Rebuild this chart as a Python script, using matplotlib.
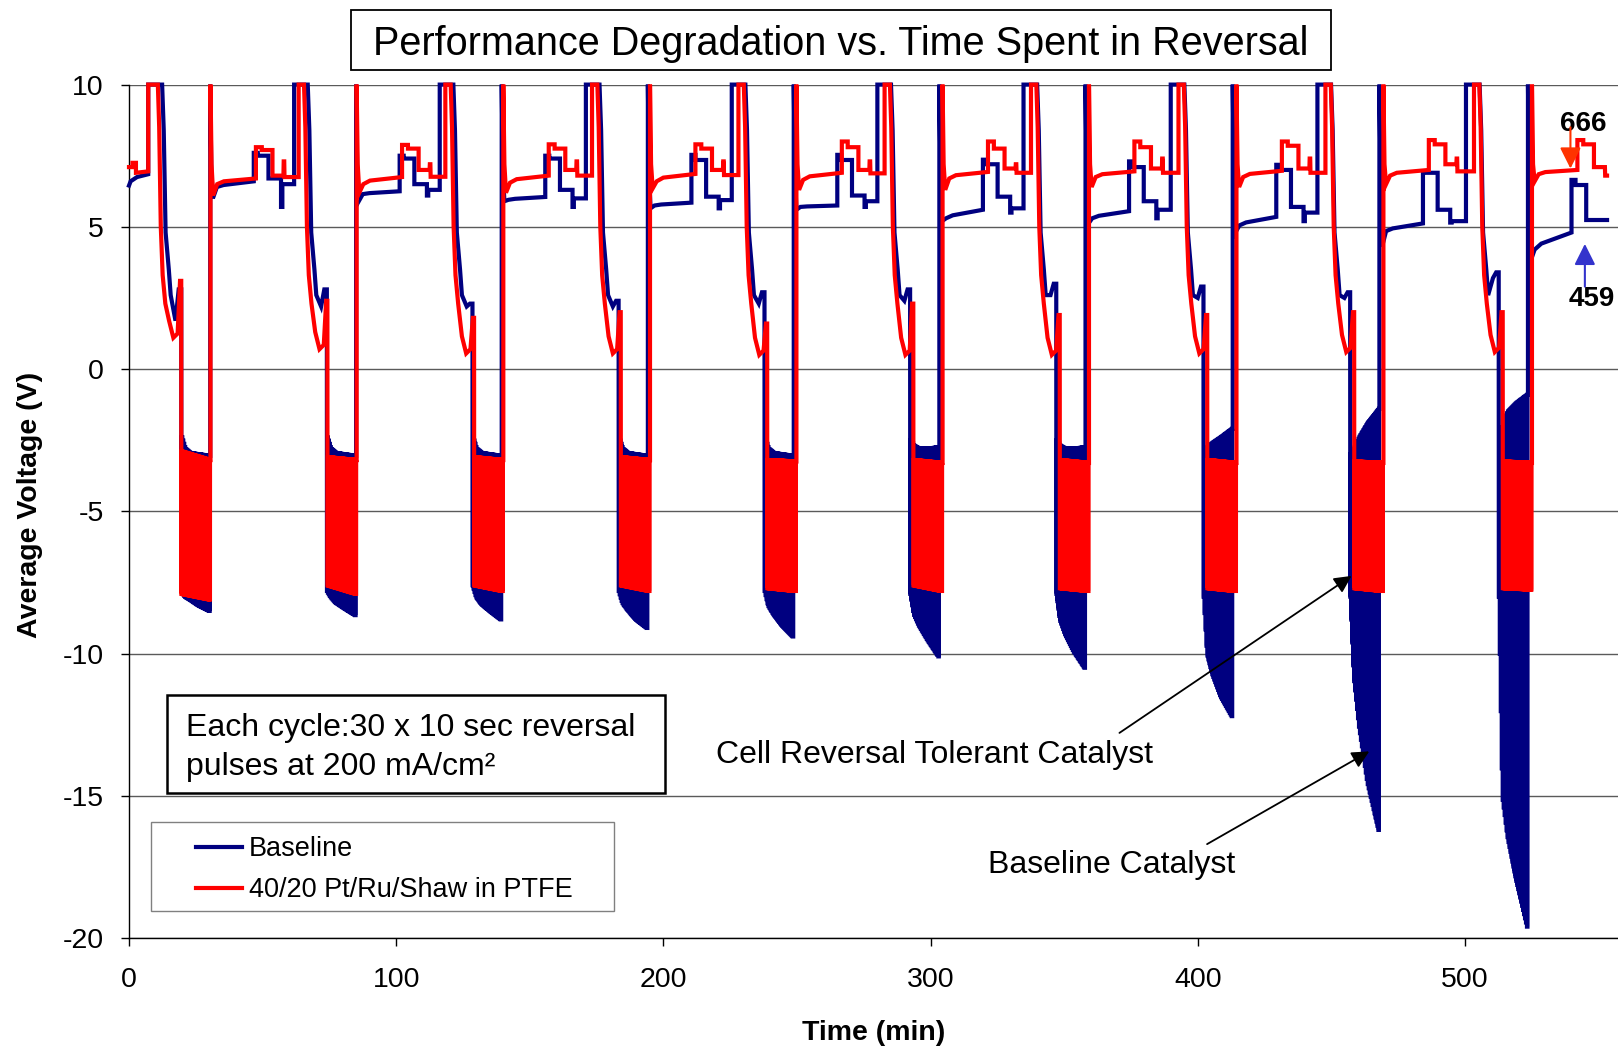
import numpy as np
import matplotlib
matplotlib.use("Agg")
import matplotlib.pyplot as plt
from matplotlib.patches import Rectangle
from matplotlib.lines import Line2D

plt.rcParams['font.family'] = ['Liberation Sans', 'DejaVu Sans']
plt.rcParams['axes.unicode_minus'] = False

NAVY = '#000080'
RED = '#FF0000'

# ---------------- data: time in minutes, average voltage in V ----------------
PULSES_PER_CYCLE = 30
END_TIME = 553.2

# reversal pulse blocks
RED_PULSE_START = [19.6, 74.3, 129.2, 184.1, 238.9, 293.6, 348.4, 403.6, 458.6, 514.2]
RED_PULSE_END = [30.5, 85.2, 140.1, 195.0, 249.8, 304.5, 359.3, 414.5, 469.5, 525.1]
BLUE_PULSE_START = [19.6, 74.1, 128.6, 183.3, 237.9, 292.4, 347.1, 402.2, 457.1, 512.7]
BLUE_PULSE_END = [30.4, 85.0, 139.5, 194.2, 248.8, 303.3, 358.0, 413.1, 468.0, 523.6]

# time at which each trace jumps to the top of the scale before a reversal block
RED_TOP_ON = [7.2, 63.5, 118.4, 173.3, 228.1, 282.8, 337.6, 392.8, 447.8, 503.4]
BLUE_TOP_ON = [7.2, 61.8, 116.3, 171.0, 225.6, 280.1, 334.8, 389.9, 444.8, 500.4]

# start of the record
RED_INIT_T = [0.0, 1.3, 1.3, 2.6, 2.6, 7.2]
RED_INIT_V = [7.1, 7.1, 7.25, 7.25, 6.9, 6.95]
BLUE_INIT_T = [0.0, 0.6, 3.0, 7.2]
BLUE_INIT_V = [6.45, 6.6, 6.75, 6.85]

# descent into reversal
RED_PRE_MIN = [1.1, 0.7, 0.55, 0.55, 0.5, 0.5, 0.5, 0.55, 0.6, 0.6]
RED_PRE_END = [3.1, 2.4, 1.8, 2.0, 1.6, 2.3, 1.9, 1.9, 2.0, 2.0]
BLUE_PRE_LOW = [1.7, 2.2, 2.2, 2.2, 2.3, 2.4, 2.6, 2.5, 2.5, 3.2]
BLUE_PRE_END = [2.8, 2.8, 2.3, 2.4, 2.7, 2.8, 3.0, 2.9, 2.7, 3.4]

# pulse envelopes (upper = between pulses, lower = during reversal)
RED_ENV_FRAC = [0.0, 1.0]
RED_HI = [[-2.9, -3.2], [-3.1, -3.2], [-3.1, -3.2], [-3.1, -3.2], [-3.2, -3.25],
          [-3.2, -3.3], [-3.2, -3.3], [-3.2, -3.3], [-3.25, -3.3], [-3.25, -3.3]]
RED_LO = [[-7.9, -8.1], [-7.6, -7.9], [-7.6, -7.8], [-7.6, -7.8], [-7.7, -7.8],
          [-7.6, -7.8], [-7.7, -7.8], [-7.7, -7.8], [-7.7, -7.8], [-7.7, -7.75]]
BLUE_ENV_FRAC = [0.0, 0.12, 0.3, 0.6, 1.0]
BLUE_HI = [[-2.4, -2.8, -2.95, -3.0, -3.05],
           [-2.4, -2.8, -2.95, -3.0, -3.05],
           [-2.4, -2.8, -2.95, -3.0, -3.05],
           [-2.4, -2.8, -2.95, -3.0, -3.05],
           [-2.4, -2.8, -2.95, -3.0, -3.05],
           [-2.5, -2.7, -2.8, -2.8, -2.75],
           [-2.5, -2.7, -2.8, -2.8, -2.75],
           [-2.9, -2.75, -2.6, -2.4, -2.1],
           [-3.0, -2.8, -2.4, -1.9, -1.4],
           [-3.0, -1.9, -1.5, -1.2, -0.9]]
BLUE_LO = [[-7.8, -8.0, -8.1, -8.3, -8.5],
           [-7.8, -8.0, -8.2, -8.4, -8.65],
           [-7.6, -8.0, -8.25, -8.5, -8.8],
           [-7.8, -8.2, -8.45, -8.8, -9.1],
           [-7.8, -8.3, -8.6, -9.0, -9.4],
           [-7.9, -8.6, -9.0, -9.5, -10.1],
           [-7.9, -8.8, -9.3, -9.9, -10.5],
           [-8.0, -10.0, -10.7, -11.5, -12.2],
           [-8.0, -10.8, -12.5, -14.5, -16.2],
           [-8.0, -15.0, -16.4, -17.9, -19.6]]

# recovery after each reversal block
RED_DIP = [6.1, 6.2, 6.2, 6.35, 6.3, 6.3, 6.4, 6.4, 6.5, 6.6]
RED_PLAT_START = [6.5, 6.5, 6.55, 6.6, 6.65, 6.7, 6.75, 6.75, 6.8, 6.85]
RED_PLAT_END = [6.7, 6.75, 6.8, 6.86, 6.9, 6.93, 6.95, 6.97, 7.0, 7.0]
RED_STEP_HI = [7.8, 7.88, 7.9, 7.9, 8.0, 8.0, 8.0, 8.0, 8.05, 8.05]
RED_STEP_LO = [7.7, 7.75, 7.75, 7.75, 7.8, 7.75, 7.8, 7.85, 7.9, 7.9]
RED_MID = [6.8, 7.0, 7.0, 7.0, 7.0, 7.05, 7.05, 7.05, 7.2, 7.1]
RED_BLIP = [7.3, 7.2, 7.3, 7.3, 7.3, 7.2, 7.4, 7.4, 7.4, 6.8]
RED_LATE = [6.75, 6.76, 6.8, 6.82, 6.88, 6.9, 6.9, 6.9, 6.95, 6.8]

BLUE_DIP = [6.0, 5.9, 5.9, 5.65, 5.6, 5.2, 5.1, 4.8, 4.3, 3.8]
BLUE_PLAT0 = [6.4, 6.15, 5.95, 5.75, 5.7, 5.3, 5.3, 5.05, 4.85, 4.2]
BLUE_PLAT1 = [6.6, 6.25, 6.05, 5.85, 5.75, 5.6, 5.55, 5.35, 5.12, 4.8]
BLUE_STEP = [7.6, 7.5, 7.5, 7.53, 7.53, 7.36, 7.3, 7.18, 6.94, 6.65]
BLUE_STEP2 = [7.5, 7.4, 7.4, 7.35, 7.35, 7.2, 7.1, 7.0, 6.9, 6.47]
BLUE_MID = [6.7, 6.5, 6.3, 6.06, 6.1, 6.06, 5.9, 5.7, 5.6, 5.24]
BLUE_NOTCH = [5.7, 6.1, 5.7, 5.65, 5.7, 5.5, 5.3, 5.2, 5.15, 5.24]
BLUE_LATE = [6.5, 6.3, 6.0, 5.94, 5.9, 5.65, 5.6, 5.5, 5.2, 5.24]


# ---------------- trace assembly ----------------
def pulse_block(t0, t1, frac, lo_pts, hi_pts, n=PULSES_PER_CYCLE):
    period = (t1 - t0) / n
    f = np.arange(n) / (n - 1)
    lo = np.interp(f, frac, lo_pts)
    hi = np.interp(f, frac, hi_pts)
    pts = []
    for i in range(n):
        ts = t0 + i * period
        pts += [(ts, lo[i]), (ts + 0.45 * period, lo[i]),
                (ts + 0.5 * period, hi[i]), (ts + 0.97 * period, hi[i])]
    pts.append((t1, hi[-1]))
    return pts


def red_pre(k):
    r, m, e = RED_PULSE_START[k], RED_PRE_MIN[k], RED_PRE_END[k]
    return [(RED_TOP_ON[k], 10), (r - 8.8, 10), (r - 8.3, 8.5), (r - 7.7, 5.0),
            (r - 7.0, 3.3), (r - 6.0, 2.3), (r - 4.6, m + 0.6), (r - 3.0, m),
            (r - 1.4, m + 0.15), (r - 0.5, e), (r - 0.05, e)]


def red_post(k):
    e = RED_PULSE_END[k]
    ps, pe = RED_PLAT_START[k], RED_PLAT_END[k]
    return [(e, 10), (e + 0.4, 7.2), (e + 1.0, RED_DIP[k]), (e + 2.5, ps),
            (e + 5.0, ps + 0.5 * (pe - ps)), (e + 17.0, pe),
            (e + 17.0, RED_STEP_HI[k]), (e + 19.2, RED_STEP_HI[k]),
            (e + 19.2, RED_STEP_LO[k]), (e + 23.2, RED_STEP_LO[k]),
            (e + 23.2, RED_MID[k]), (e + 27.3, RED_MID[k]),
            (e + 27.4, RED_BLIP[k]), (e + 27.6, RED_BLIP[k]),
            (e + 27.7, RED_LATE[k])]


def blue_pre(k):
    r = BLUE_PULSE_START[k]
    return [(BLUE_TOP_ON[k], 10), (r - 7.2, 10), (r - 6.6, 8.4), (r - 5.9, 4.8),
            (r - 4.7, 3.5), (r - 4.0, 2.6), (r - 2.2, BLUE_PRE_LOW[k]),
            (r - 1.0, BLUE_PRE_END[k]), (r - 0.05, BLUE_PRE_END[k])]


def blue_post(k):
    e = BLUE_PULSE_END[k]
    p0, p1 = BLUE_PLAT0[k], BLUE_PLAT1[k]
    return [(e, 10), (e + 0.4, 7.0), (e + 1.0, BLUE_DIP[k]), (e + 2.5, p0),
            (e + 5.0, p0 + 0.35 * (p1 - p0)), (e + 16.3, p1),
            (e + 16.3, BLUE_STEP[k]), (e + 17.8, BLUE_STEP[k]),
            (e + 17.8, BLUE_STEP2[k]), (e + 21.8, BLUE_STEP2[k]),
            (e + 21.8, BLUE_MID[k]), (e + 26.5, BLUE_MID[k]),
            (e + 26.5, BLUE_NOTCH[k]), (e + 27.0, BLUE_NOTCH[k]),
            (e + 27.0, BLUE_LATE[k])]


def assemble(init_t, init_v, top_on, pre, pulses, post):
    pts = list(zip(init_t, init_v))
    for k in range(len(top_on)):
        pts.append((top_on[k], pts[-1][1]))
        pts += pre(k)
        pts += pulses(k)
        pts += post(k)
    t = np.array([p[0] for p in pts])
    v = np.array([p[1] for p in pts])
    keep = t <= END_TIME
    t_end = np.append(t[keep], END_TIME)
    v_end = np.append(v[keep], v[keep][-1])
    return t_end, v_end


red_t, red_v = assemble(
    RED_INIT_T, RED_INIT_V, RED_TOP_ON, red_pre,
    lambda k: pulse_block(RED_PULSE_START[k], RED_PULSE_END[k], RED_ENV_FRAC, RED_LO[k], RED_HI[k]),
    red_post)
blue_t, blue_v = assemble(
    BLUE_INIT_T, BLUE_INIT_V, BLUE_TOP_ON, blue_pre,
    lambda k: pulse_block(BLUE_PULSE_START[k], BLUE_PULSE_END[k], BLUE_ENV_FRAC, BLUE_LO[k], BLUE_HI[k]),
    blue_post)

# ---------------- figure ----------------
W, H = 1618, 1046
fig = plt.figure(figsize=(W / 100, H / 100), dpi=100)
fig.patch.set_facecolor('white')


def fx(px):
    return px / W


def fy(py):
    return 1 - py / H


ax = fig.add_axes([fx(129), fy(938), (W - 129) / W, (938 - 84.6) / H])
ax.set_xlim(0, 557.3)
ax.set_ylim(-20, 10)
ax.set_xticks(range(0, 501, 100))
ax.set_yticks(range(-20, 11, 5))
ax.grid(axis='y', color='#5a5a5a', lw=1.0)
ax.set_axisbelow(True)
for side in ('top', 'right'):
    ax.spines[side].set_visible(False)
for side in ('left', 'bottom'):
    ax.spines[side].set_color('black')
    ax.spines[side].set_linewidth(1.0)
ax.tick_params(axis='both', direction='out', length=6, width=1.0, labelsize=20.5, colors='black')
ax.tick_params(axis='y', pad=12)
ax.tick_params(axis='x', pad=15)

ax.plot(blue_t, blue_v, color=NAVY, lw=3.0, clip_on=False, zorder=3, solid_joinstyle='miter')
ax.plot(red_t, red_v, color=RED, lw=3.0, clip_on=False, zorder=4, solid_joinstyle='miter')

ax.set_xlabel('Time (min)', fontsize=20.5, fontweight='bold')
ax.xaxis.set_label_coords(0.5, (938 - 1033) / (938 - 84.6))
ax.xaxis.label.set_va('center')
ax.set_ylabel('Average Voltage (V)', fontsize=20.5, fontweight='bold')
ax.yaxis.set_label_coords((30 - 129) / (W - 129), 0.507)
ax.yaxis.label.set_va('center')

# title in a box
fig.add_artist(Rectangle((fx(351), fy(70)), 980 / W, 60 / H, transform=fig.transFigure,
                         fill=False, ec='black', lw=1.3))
fig.text(fx(841), fy(44), 'Performance Degradation vs. Time Spent in Reversal',
         ha='center', va='center', fontsize=28.5)

# test-condition note
fig.add_artist(Rectangle((fx(167), fy(793)), 498 / W, 98 / H, transform=fig.transFigure,
                         fc='white', ec='black', lw=1.8, zorder=5))
fig.text(fx(186), fy(728), 'Each cycle:30 x 10 sec reversal', ha='left', va='center',
         fontsize=23, zorder=6)
fig.text(fx(186), fy(767), 'pulses at 200 mA/cm²', ha='left', va='center',
         fontsize=23, zorder=6)

# legend
fig.add_artist(Rectangle((fx(151), fy(911)), 463 / W, 89 / H, transform=fig.transFigure,
                         fc='white', ec='#808080', lw=1.0, zorder=5))
for label, color, ypx in (('Baseline', NAVY, 849), ('40/20 Pt/Ru/Shaw in PTFE', RED, 890)):
    fig.add_artist(Line2D([fx(196), fx(242)], [fy(ypx - 2), fy(ypx - 2)], transform=fig.transFigure,
                          color=color, lw=3.0, zorder=6))
    fig.text(fx(249), fy(ypx), label, ha='left', va='center', fontsize=19.5, zorder=6)

# catalyst call-outs
arrow_kw = dict(arrowstyle='-|>', color='black', lw=1.3, mutation_scale=26,
                shrinkA=0, shrinkB=0)
ax.annotate('', xy=(457.6, -7.27), xytext=(370.7, -12.79), arrowprops=arrow_kw, zorder=6)
ax.annotate('', xy=(464.2, -13.44), xytext=(403.5, -16.7), arrowprops=arrow_kw, zorder=6)
ax.text(301.6, -13.55, 'Cell Reversal Tolerant Catalyst', ha='center', va='center', fontsize=23)
ax.text(367.7, -17.45, 'Baseline Catalyst', ha='center', va='center', fontsize=23)

# end-of-test voltages
ax.annotate('', xy=(539.5, 7.05), xytext=(539.5, 8.5),
            arrowprops=dict(arrowstyle='-|>', color='#FF3300', lw=1.5, mutation_scale=32,
                            shrinkA=0, shrinkB=0), zorder=6, annotation_clip=False)
ax.annotate('', xy=(544.9, 4.4), xytext=(544.9, 2.9),
            arrowprops=dict(arrowstyle='-|>', color='#3333CC', lw=1.5, mutation_scale=32,
                            shrinkA=0, shrinkB=0), zorder=6, annotation_clip=False)
ax.text(544.2, 8.62, '666', ha='center', va='center', fontsize=20, fontweight='bold', clip_on=False)
ax.text(547.5, 2.46, '459', ha='center', va='center', fontsize=20, fontweight='bold', clip_on=False)

fig.savefig('out.png', dpi=100, facecolor='white')
